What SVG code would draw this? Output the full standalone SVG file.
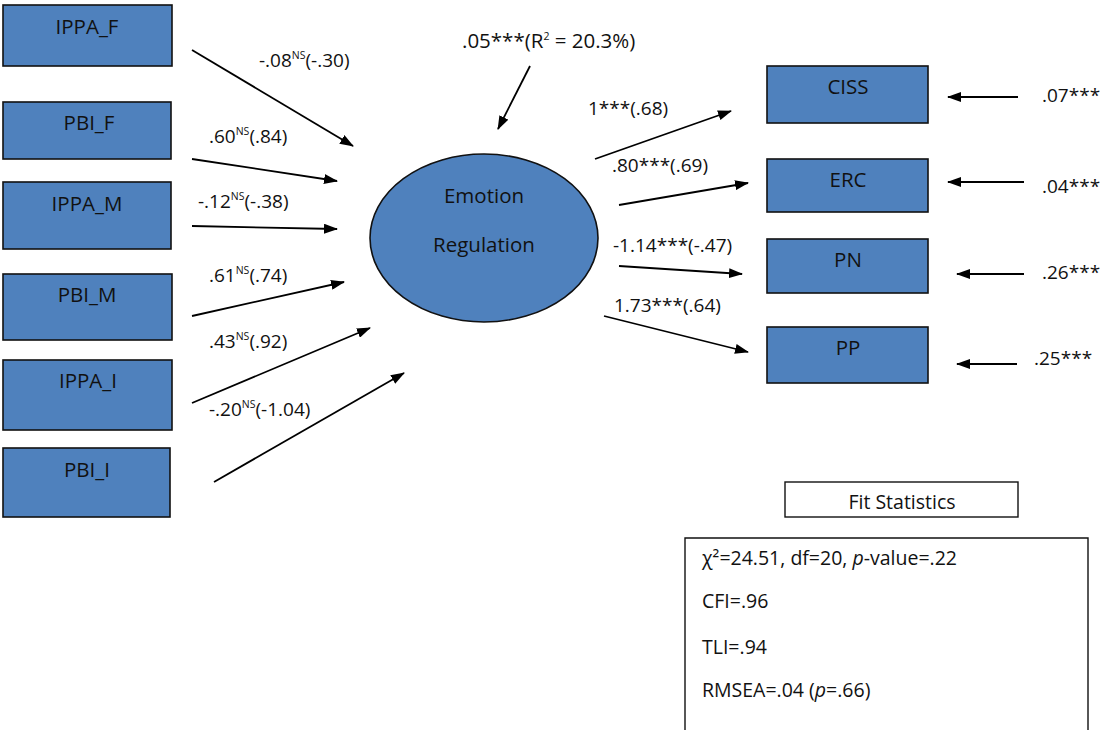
<svg xmlns="http://www.w3.org/2000/svg" width="1103" height="730" viewBox="0 0 1103 730">
<style>
.box{fill:#4F81BD;stroke:#111;stroke-width:1.6}
.nt{font-family:"Open Sans",sans-serif;font-size:20.5px;fill:#111;text-anchor:middle}
.lb{font-family:"Open Sans",sans-serif;font-size:19px;fill:#111}
.top{font-size:20.5px}
.fs{font-size:19.5px}
.sup{font-size:10.5px}
.ar{stroke:#000;stroke-width:1.8;fill:none;marker-end:url(#ah)}
.fit{fill:#fff;stroke:#111;stroke-width:1.4}
</style>
<defs>
<marker id="ah" viewBox="0 0 14 10" refX="13" refY="5" markerWidth="14" markerHeight="10" markerUnits="userSpaceOnUse" orient="auto">
<path d="M0,0 L14,5 L0,10 Z" fill="#000"/>
</marker>
</defs>
<rect width="1103" height="730" fill="#fff"/>

<g id="IPPA_F"><rect class="box" x="3" y="5" width="169" height="61"/><text class="nt" x="87" y="34">IPPA_F</text></g>
<g id="PBI_F"><rect class="box" x="3" y="102" width="168" height="57"/><text class="nt" x="89" y="130">PBI_F</text></g>
<g id="IPPA_M"><rect class="box" x="3" y="182" width="168" height="67"/><text class="nt" x="87" y="211">IPPA_M</text></g>
<g id="PBI_M"><rect class="box" x="3" y="274" width="169" height="66"/><text class="nt" x="87" y="302">PBI_M</text></g>
<g id="IPPA_I"><rect class="box" x="3" y="360" width="169" height="70"/><text class="nt" x="88" y="388">IPPA_I</text></g>
<g id="PBI_I"><rect class="box" x="3" y="448" width="167" height="69"/><text class="nt" x="87" y="477">PBI_I</text></g>

<g id="EmotionRegulation"><ellipse class="box" cx="484" cy="238" rx="114" ry="84"/><text class="nt" x="484" y="203">Emotion</text><text class="nt" x="484" y="252">Regulation</text></g>

<g id="CISS"><rect class="box" x="767" y="66" width="161" height="57"/><text class="nt" x="848" y="94">CISS</text></g>
<g id="ERC"><rect class="box" x="767" y="159" width="161" height="53"/><text class="nt" x="848" y="187">ERC</text></g>
<g id="PN"><rect class="box" x="767" y="239" width="161" height="54"/><text class="nt" x="848" y="267">PN</text></g>
<g id="PP"><rect class="box" x="767" y="327" width="161" height="56"/><text class="nt" x="848" y="355">PP</text></g>

<g id="connectors">
<line class="ar" x1="192" y1="50" x2="353" y2="146"/>
<line class="ar" x1="192" y1="159" x2="337" y2="181"/>
<line class="ar" x1="192" y1="226" x2="337" y2="229"/>
<line class="ar" x1="192" y1="316" x2="344" y2="282"/>
<line class="ar" x1="192" y1="403" x2="370" y2="328"/>
<line class="ar" x1="214" y1="482" x2="404" y2="373"/>
<line class="ar" x1="530" y1="66" x2="498" y2="129"/>
<line class="ar" x1="595" y1="159" x2="731" y2="111"/>
<line class="ar" x1="619" y1="205" x2="748" y2="183"/>
<line class="ar" x1="619" y1="266" x2="742" y2="274"/>
<line class="ar" x1="604" y1="316" x2="748" y2="352"/>
<line class="ar" x1="1018" y1="97" x2="948" y2="97"/>
<line class="ar" x1="1024" y1="182" x2="948" y2="182"/>
<line class="ar" x1="1024" y1="274" x2="957" y2="274"/>
<line class="ar" x1="1017" y1="364" x2="957" y2="364"/>
</g>

<g id="labels">
<text class="lb" x="259" y="67">-.08<tspan class="sup" dy="-8">NS</tspan><tspan dy="8">(-.30)</tspan></text>
<text class="lb" x="209" y="143">.60<tspan class="sup" dy="-8">NS</tspan><tspan dy="8">(.84)</tspan></text>
<text class="lb" x="198" y="208">-.12<tspan class="sup" dy="-8">NS</tspan><tspan dy="8">(-.38)</tspan></text>
<text class="lb" x="209" y="282">.61<tspan class="sup" dy="-8">NS</tspan><tspan dy="8">(.74)</tspan></text>
<text class="lb" x="209" y="348">.43<tspan class="sup" dy="-8">NS</tspan><tspan dy="8">(.92)</tspan></text>
<text class="lb" x="209" y="416">-.20<tspan class="sup" dy="-8">NS</tspan><tspan dy="8">(-1.04)</tspan></text>
<text class="lb top" x="462" y="48">.05***(R<tspan class="sup" dy="-8">2</tspan><tspan dy="8"> = 20.3%)</tspan></text>
<text class="lb" x="588" y="115">1***(.68)</text>
<text class="lb" x="612" y="172">.80***(.69)</text>
<text class="lb" x="613" y="252">-1.14***(-.47)</text>
<text class="lb" x="614" y="312">1.73***(.64)</text>
<text class="lb" x="1042" y="102">.07***</text>
<text class="lb" x="1042" y="193">.04***</text>
<text class="lb" x="1042" y="279">.26***</text>
<text class="lb" x="1034" y="365">.25***</text>
</g>

<g id="FitStatistics"><rect class="fit" x="785" y="482" width="233" height="35"/><text class="lb fs" x="902" y="509" text-anchor="middle">Fit Statistics</text></g>
<g id="FitValues"><path class="fit" d="M685,732 L685,538 L1088,538 L1088,732"/>
<text class="lb fs" x="702" y="565">χ²=24.51, df=20, <tspan font-style="italic">p</tspan>-value=.22</text>
<text class="lb fs" x="702" y="608">CFI=.96</text>
<text class="lb fs" x="702" y="654">TLI=.94</text>
<text class="lb fs" x="702" y="697">RMSEA=.04 (<tspan font-style="italic">p</tspan>=.66)</text>
</g>
</svg>
